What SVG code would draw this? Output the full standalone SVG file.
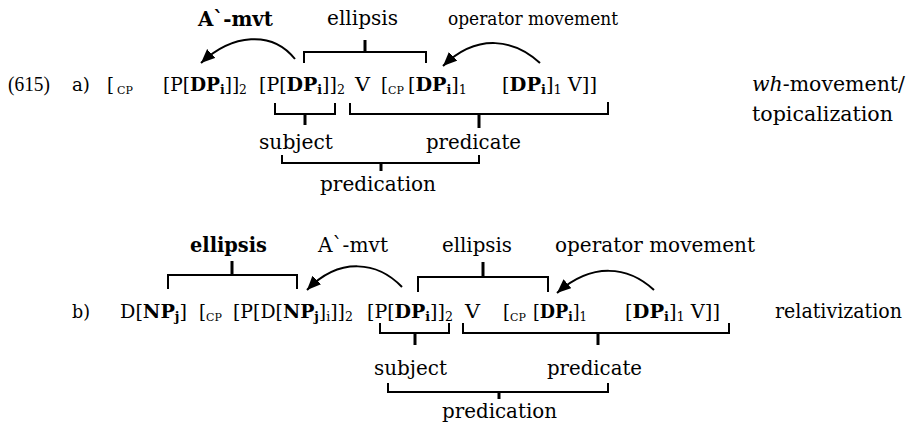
<svg xmlns="http://www.w3.org/2000/svg" width="912" height="425" viewBox="0 0 912 425">
<style>
text{font-family:"DejaVu Serif","Liberation Serif",serif;font-size:20px;fill:#000}
.f{font-size:18px}
.num{font-family:"Liberation Serif",serif;font-size:20px}
.b{font-weight:bold}
.s{font-size:12px}
.cp{font-size:11px}
.sm{font-size:18px}
.br{fill:none;stroke:#000;stroke-width:2}
.st{fill:none;stroke:#000;stroke-width:3}
.ar{fill:none;stroke:#000;stroke-width:2}
</style>
<defs>
<marker id="ah" markerUnits="userSpaceOnUse" markerWidth="16" markerHeight="14" refX="14" refY="6" orient="auto">
<path d="M0,0 L14,6 L0,12 z" fill="#000"/>
</marker>
</defs>
<g id="row-a">
<text class="num" x="8" y="91" textLength="42" lengthAdjust="spacingAndGlyphs">(615)</text>
<text class="f" x="72" y="91" textLength="18" lengthAdjust="spacingAndGlyphs">a)</text>
<text class="f" x="107" y="91">[</text>
<text class="cp" x="117" y="94">CP</text>
<text class="f" x="163" y="91" textLength="84" lengthAdjust="spacingAndGlyphs">[P[<tspan class="b">DP</tspan><tspan class="b s" dy="3">i</tspan><tspan dy="-3">]]</tspan><tspan class="s" dy="3">2</tspan></text>
<text class="f" x="259" y="91" textLength="86" lengthAdjust="spacingAndGlyphs">[P[<tspan class="b">DP</tspan><tspan class="b s" dy="3">i</tspan><tspan dy="-3">]]</tspan><tspan class="s" dy="3">2</tspan></text>
<text class="f" x="355" y="91" textLength="15" lengthAdjust="spacingAndGlyphs">V</text>
<text class="f" x="381" y="91">[</text>
<text class="cp" x="388" y="94">CP</text>
<text class="f" x="408" y="91" textLength="59" lengthAdjust="spacingAndGlyphs">[<tspan class="b">DP</tspan><tspan class="b s" dy="3">i</tspan><tspan dy="-3">]</tspan><tspan class="s" dy="3">1</tspan></text>
<text class="f" x="502" y="91" textLength="95" lengthAdjust="spacingAndGlyphs">[<tspan class="b">DP</tspan><tspan class="b s" dy="3">i</tspan><tspan dy="-3">]</tspan><tspan class="s" dy="3">1</tspan><tspan dy="-3"> V]]</tspan></text>
</g>
<g id="label-a-type">
<text x="752" y="91" textLength="153" lengthAdjust="spacingAndGlyphs"><tspan font-style="italic">wh</tspan>-movement/</text>
<text x="752" y="121" textLength="141" lengthAdjust="spacingAndGlyphs">topicalization</text>
</g>
<g id="label-a-amvt"><text class="b" x="198" y="26" textLength="75" lengthAdjust="spacingAndGlyphs">A`-mvt</text></g>
<g id="label-a-ellipsis"><text x="327" y="25" textLength="71" lengthAdjust="spacingAndGlyphs">ellipsis</text></g>
<g id="label-a-opmvt"><text class="sm" x="448" y="25" textLength="170" lengthAdjust="spacingAndGlyphs">operator movement</text></g>
<g id="label-a-subject"><text x="259" y="149" textLength="74" lengthAdjust="spacingAndGlyphs">subject</text></g>
<g id="label-a-predicate"><text x="426" y="149" textLength="95" lengthAdjust="spacingAndGlyphs">predicate</text></g>
<g id="label-a-predication"><text x="320" y="191" textLength="116" lengthAdjust="spacingAndGlyphs">predication</text></g>

<g id="row-b">
<text class="f" x="72" y="318" textLength="18" lengthAdjust="spacingAndGlyphs">b)</text>
<text class="f" x="120" y="318" textLength="67" lengthAdjust="spacingAndGlyphs">D[<tspan class="b">NP</tspan><tspan class="b s" dy="3">j</tspan><tspan dy="-3">]</tspan></text>
<text class="f" x="199" y="318">[</text>
<text class="cp" x="206" y="321">CP</text>
<text class="f" x="233" y="318" textLength="120" lengthAdjust="spacingAndGlyphs">[P[D[<tspan class="b">NP</tspan><tspan class="b s" dy="3">j</tspan><tspan dy="-3">]</tspan><tspan class="s" dy="3">i</tspan><tspan dy="-3">]]</tspan><tspan class="s" dy="3">2</tspan></text>
<text class="f" x="367" y="318" textLength="86" lengthAdjust="spacingAndGlyphs">[P[<tspan class="b">DP</tspan><tspan class="b s" dy="3">i</tspan><tspan dy="-3">]]</tspan><tspan class="s" dy="3">2</tspan></text>
<text class="f" x="465" y="318" textLength="15" lengthAdjust="spacingAndGlyphs">V</text>
<text class="f" x="503" y="318">[</text>
<text class="cp" x="510" y="321">CP</text>
<text class="f" x="533" y="318" textLength="54" lengthAdjust="spacingAndGlyphs">[<tspan class="b">DP</tspan><tspan class="b s" dy="3">i</tspan><tspan dy="-3">]</tspan><tspan class="s" dy="3">1</tspan></text>
<text class="f" x="625" y="318" textLength="95" lengthAdjust="spacingAndGlyphs">[<tspan class="b">DP</tspan><tspan class="b s" dy="3">i</tspan><tspan dy="-3">]</tspan><tspan class="s" dy="3">1</tspan><tspan dy="-3"> V]]</tspan></text>
</g>
<g id="label-b-type"><text x="775" y="318" textLength="127" lengthAdjust="spacingAndGlyphs">relativization</text></g>
<g id="label-b-ellipsis-bold"><text class="b" x="190" y="252" textLength="77" lengthAdjust="spacingAndGlyphs">ellipsis</text></g>
<g id="label-b-amvt"><text x="318" y="252" textLength="70" lengthAdjust="spacingAndGlyphs">A`-mvt</text></g>
<g id="label-b-ellipsis"><text x="442" y="252" textLength="70" lengthAdjust="spacingAndGlyphs">ellipsis</text></g>
<g id="label-b-opmvt"><text x="555" y="252" textLength="200" lengthAdjust="spacingAndGlyphs">operator movement</text></g>
<g id="label-b-subject"><text x="374" y="375" textLength="73" lengthAdjust="spacingAndGlyphs">subject</text></g>
<g id="label-b-predicate"><text x="547" y="375" textLength="95" lengthAdjust="spacingAndGlyphs">predicate</text></g>
<g id="label-b-predication"><text x="442" y="418" textLength="115" lengthAdjust="spacingAndGlyphs">predication</text></g>

<g id="connectors">
<path class="br" d="M304,63 V52 H426 V63"/><path class="st" d="M365,40 V52"/>
<path class="br" d="M275,103 V114 H335 V103"/><path class="st" d="M305,114 V125"/>
<path class="br" d="M350,103 V114 H608 V102"/><path class="st" d="M479,114 V128"/>
<path class="br" d="M282,155 V163 H479 V155"/><path class="st" d="M381,163 V171"/>
<path class="ar" d="M295,59 C272,30 232,34 201,63" marker-end="url(#ah)"/>
<path class="ar" d="M540,63 C515,40 478,32 443,66" marker-end="url(#ah)"/>

<path class="br" d="M168,289 V275 H297 V289"/><path class="st" d="M232,261 V275"/>
<path class="br" d="M418,292 V277 H548 V292"/><path class="st" d="M483,262 V277"/>
<path class="br" d="M380,323 V333 H449 V323"/><path class="st" d="M415,333 V345"/>
<path class="br" d="M463,323 V333 H729 V323"/><path class="st" d="M598,333 V345"/>
<path class="br" d="M388,383 V392 H608 V383"/><path class="st" d="M499,392 V399"/>
<path class="ar" d="M402,287 C378,262 340,256 307,290" marker-end="url(#ah)"/>
<path class="ar" d="M654,290 C628,266 592,262 557,293" marker-end="url(#ah)"/>
</g>
</svg>
